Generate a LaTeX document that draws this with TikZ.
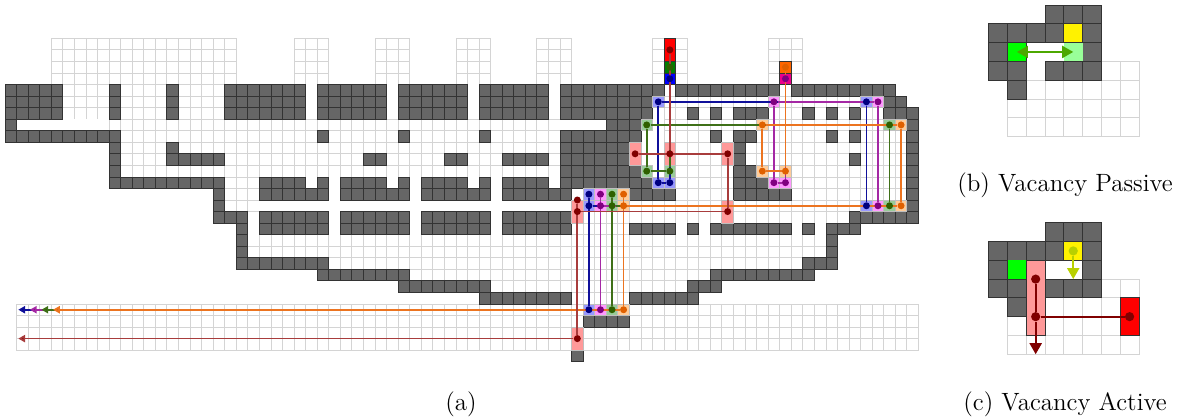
\documentclass[tikz,border=0pt]{standalone}
\usepackage{xcolor}
\usetikzlibrary{arrows.meta}
\definecolor{wallgray}{HTML}{666666}
\definecolor{wred}{HTML}{A83C3C}
\definecolor{wblue}{HTML}{10109A}
\definecolor{wpurple}{HTML}{A428A4}
\definecolor{wgreen}{HTML}{3F7018}
\definecolor{worange}{HTML}{EC7420}
\definecolor{dred}{HTML}{800000}
\definecolor{dblue}{HTML}{000080}
\definecolor{dpurple}{HTML}{800080}
\definecolor{dgreen}{HTML}{2F6000}
\definecolor{dorange}{HTML}{E06000}
\definecolor{pred}{HTML}{FF9999}
\definecolor{pblue}{HTML}{9999FF}
\definecolor{ppurple}{HTML}{FF99FF}
\definecolor{pgreen}{HTML}{99CC99}
\definecolor{porange}{HTML}{FFCC99}
\definecolor{arrowgreen}{HTML}{4CA800}
\definecolor{arrowyellow}{HTML}{B8D000}
\pgfdeclarelayer{cells}
\pgfdeclarelayer{wires}
\pgfsetlayers{cells,wires,main}

\begin{document}
\begin{tikzpicture}[
    x=5.781pt, y=-5.775pt,
    font=\fontsize{12.5}{15}\selectfont,
    wallcell/.style={draw=black!80, fill=wallgray, line width=0.4pt},
    gridcell/.style={draw=black!17, fill=white, line width=0.4pt},
    solidcell/.style={draw=black!80, fill=#1, line width=0.4pt},
    palecell/.style={draw=black!25, fill=#1, line width=0.4pt},
    dot/.style={circle, inner sep=0pt, minimum size=3.5pt, fill=#1},
    bigdot/.style={circle, inner sep=0pt, minimum size=4.6pt, fill=#1},
    wire/.style={draw=#1, line width=0.85pt},
    tip/.style={-{Triangle[length=3.4pt, width=3.6pt, fill=#1]}},
    bigwire/.style={draw=#1, line width=1pt},
    bigtip/.style={-{Triangle[length=5.5pt, width=6pt, fill=#1]}}
]
\useasboundingbox (-0.433,-3.316) rectangle (101.45,32.96);

\begin{pgfonlayer}{cells}
% free cells
\foreach \r/\a/\b in {0/4/19,1/4/19,2/4/19,3/4/19,
    0/25/27,1/25/27,2/25/27,3/25/27,0/32/34,1/32/34,2/32/34,3/32/34,
    0/39/41,1/39/41,2/39/41,3/39/41,0/46/48,1/46/48,2/46/48,3/46/48,
    0/56/58,1/56/58,2/56/58,3/56/58,0/66/68,1/66/68,2/66/68,3/66/68,
    4/5/18,5/5/18,6/5/18,5/57/73,6/56/75,7/9/75,8/10/77,9/10/77,10/10/77,11/10/77,
    12/19/77,13/19/77,14/19/77,15/21/72,16/21/70,17/21/70,18/21/70,
    19/28/68,20/35/60,21/42/58,22/49/53,
    23/1/78,24/1/78,25/1/78,26/1/78}
    \foreach \c in {\a,...,\b} \draw[gridcell] (\c,\r) rectangle ++(1,1);

% corridors
\foreach \r/\a/\b in {4/26/26,5/26/26,6/26/26,4/33/33,5/33/33,6/33/33,
    4/40/40,5/40/40,6/40/40,4/47/47,5/47/47,6/47/47,4/57/57,4/67/67,
    7/1/8,7/48/51,14/22/48,15/21/21,16/21/21,12/26/26,12/33/33,12/40/40,12/47/47,
    12/28/28,13/28/28,15/28/28,16/28/28,12/35/35,13/35/35,15/35/35,16/35/35,
    12/42/42,13/42/42,15/42/42,16/42/42,6/56/56,7/56/56,8/55/56,9/54/56,10/54/56,11/56/56,
    16/58/58,16/60/60,16/68/68,16/70/70}
    \fill[white] (\a,\r) rectangle (\b+1,\r+1);

% walls
\foreach \r/\a/\b in {4/0/4,4/9/9,4/14/14,4/19/25,4/27/32,4/34/39,4/41/46,4/48/56,4/58/66,4/68/76,
    5/0/4,5/9/9,5/14/14,5/19/25,5/27/32,5/34/39,5/41/46,5/48/55,5/76/77,
    6/0/4,6/9/9,6/14/14,6/19/25,6/27/32,6/34/39,6/41/46,6/48/55,6/59/59,6/61/61,6/63/65,6/69/69,6/71/71,6/73/73,6/76/78,
    7/0/0,7/52/54,7/78/78,
    8/0/9,8/27/27,8/34/34,8/41/41,8/48/54,8/61/61,8/63/64,8/71/71,8/73/73,8/78/78,
    9/9/9,9/14/14,9/48/53,9/63/63,9/78/78,
    10/9/9,10/14/18,10/31/32,10/38/39,10/43/46,10/48/53,10/63/63,10/73/73,10/78/78,
    11/9/9,11/48/54,11/63/64,11/78/78,
    12/9/18,12/22/25,12/27/27,12/29/32,12/34/34,12/36/39,12/41/41,12/43/46,12/48/55,12/63/65,12/78/78,
    13/18/18,13/22/27,13/29/34,13/36/41,13/43/48,13/54/57,13/63/67,13/78/78,
    14/18/18,14/78/78,
    15/18/20,15/22/27,15/29/34,15/36/41,15/43/48,15/73/78,
    16/20/20,16/22/27,16/29/34,16/36/41,16/43/48,16/54/57,16/59/59,16/61/67,16/69/69,16/71/73,
    17/20/20,17/71/71,18/20/20,18/71/71,19/20/27,19/69/71,
    20/27/34,20/61/69,21/34/41,21/59/61,22/41/48,22/54/59,24/50/53,27/49/49}
    \foreach \c in {\a,...,\b} \draw[wallcell] (\c,\r) rectangle ++(1,1);

% tinted cells
\foreach \c/\r in {49/14,54/9,57/9,62/9,62/14,49/25}
    \draw[palecell=pred] (\c,\r) rectangle ++(1,2);
\foreach \c/\r in {56/5,56/12,57/12,50/13,50/14,74/5,74/14,50/23}
    \draw[palecell=pblue] (\c,\r) rectangle ++(1,1);
\foreach \c/\r in {66/5,75/5,66/12,67/12,51/13,51/14,75/14,51/23}
    \draw[palecell=ppurple] (\c,\r) rectangle ++(1,1);
\foreach \c/\r in {55/7,55/11,57/11,52/13,52/14,76/7,76/14,52/23}
    \draw[palecell=pgreen] (\c,\r) rectangle ++(1,1);
\foreach \c/\r in {65/7,77/7,65/11,67/11,53/13,53/14,77/14,53/23}
    \draw[palecell=porange] (\c,\r) rectangle ++(1,1);

\draw[solidcell=red] (57,0) rectangle ++(1,2);
\draw[solidcell={green!50!black}] (57,2) rectangle ++(1,1);
\draw[solidcell=blue] (57,3) rectangle ++(1,1);
\draw[solidcell={orange!80!red}] (67,2) rectangle ++(1,1);
\draw[solidcell=magenta] (67,3) rectangle ++(1,1);
\end{pgfonlayer}

% blue
\node[dot=dblue] (b1) at (57.5,3.5) {};
\node[dot=dblue] (b2) at (57.5,12.5) {};
\node[dot=dblue] (b3) at (56.5,12.5) {};
\node[dot=dblue] (b4) at (56.5,5.5) {};
\node[dot=dblue] (b5) at (74.5,5.5) {};
\node[dot=dblue] (b6) at (74.5,14.5) {};
\node[dot=dblue] (b7) at (50.5,14.5) {};
\node[dot=dblue] (b8) at (50.5,13.5) {};
\node[dot=dblue] (b9) at (50.5,23.5) {};
\coordinate (b10) at (1.15,23.5);
% purple
\node[dot=dpurple] (m1) at (67.5,3.5) {};
\node[dot=dpurple] (m2) at (67.5,12.5) {};
\node[dot=dpurple] (m3) at (66.5,12.5) {};
\node[dot=dpurple] (m4) at (66.5,5.5) {};
\node[dot=dpurple] (m5) at (75.5,5.5) {};
\node[dot=dpurple] (m6) at (75.5,14.5) {};
\node[dot=dpurple] (m7) at (51.5,14.5) {};
\node[dot=dpurple] (m8) at (51.5,13.5) {};
\node[dot=dpurple] (m9) at (51.5,23.5) {};
\coordinate (m10) at (2.15,23.5);
% green
\node[dot=dgreen] (g1) at (57.5,2.5) {};
\node[dot=dgreen] (g2) at (57.5,11.5) {};
\node[dot=dgreen] (g3) at (55.5,11.5) {};
\node[dot=dgreen] (g4) at (55.5,7.5) {};
\node[dot=dgreen] (g5) at (76.5,7.5) {};
\node[dot=dgreen] (g6) at (76.5,14.5) {};
\node[dot=dgreen] (g7) at (52.5,14.5) {};
\node[dot=dgreen] (g8) at (52.5,13.5) {};
\node[dot=dgreen] (g9) at (52.5,23.5) {};
\coordinate (g10) at (3.15,23.5);
% orange
\node[dot=dorange] (o1) at (67.5,2.5) {};
\node[dot=dorange] (o2) at (67.5,11.5) {};
\node[dot=dorange] (o3) at (65.5,11.5) {};
\node[dot=dorange] (o4) at (65.5,7.5) {};
\node[dot=dorange] (o5) at (77.5,7.5) {};
\node[dot=dorange] (o6) at (77.5,14.5) {};
\node[dot=dorange] (o7) at (53.5,14.5) {};
\node[dot=dorange] (o8) at (53.5,13.5) {};
\node[dot=dorange] (o9) at (53.5,23.5) {};
\coordinate (o10) at (4.15,23.5);
% red
\node[dot=dred] (r1) at (57.5,1) {};
\node[dot=dred] (r2) at (57.5,10) {};
\node[dot=dred] (r3) at (54.5,10) {};
\node[dot=dred] (r4) at (62.5,10) {};
\node[dot=dred] (r5) at (62.5,15) {};
\node[dot=dred] (r6) at (49.5,15) {};
\node[dot=dred] (r7) at (49.5,14) {};
\node[dot=dred] (r8) at (49.5,26) {};
\coordinate (r9) at (1.15,26);

\begin{pgfonlayer}{wires}
\draw[wire=wblue] (b1) -- (b2) -- (b3) -- (b4) -- (b5) -- (b6) -- (b7);
\draw[wire=wblue] (b8) -- (b9);
\draw[wire=wblue, tip=dblue] (b9) -- (b10);
\draw[wire=wpurple] (m1) -- (m2) -- (m3) -- (m4) -- (m5) -- (m6) -- (m7);
\draw[wire=wpurple] (m8) -- (m9);
\draw[wire=wpurple, tip=dpurple] (m9) -- (m10);
\draw[wire=wgreen] (g1) -- (g2) -- (g3) -- (g4) -- (g5) -- (g6) -- (g7);
\draw[wire=wgreen] (g8) -- (g9);
\draw[wire=wgreen, tip=dgreen] (g9) -- (g10);
\draw[wire=worange] (o1) -- (o2) -- (o3) -- (o4) -- (o5) -- (o6) -- (o7);
\draw[wire=worange] (o8) -- (o9);
\draw[wire=worange, tip=dorange] (o9) -- (o10);
\draw[wire=wred] (r1) -- (r2);
\draw[wire=wred] (r3) -- (r4) -- (r5) -- (r6);
\draw[wire=wred] (r7) -- (r8);
\draw[wire=wred, tip=dred] (r8) -- (r9);
\end{pgfonlayer}

\node (capa) at (39.44,31.65) {(a)};
\node (capb) at (91.68,12.75) {(b) Vacancy Passive};
\node (capc) at (91.68,31.65) {(c) Vacancy Active};

% passive
\begin{scope}[shift={(85.08,-2.883)}, x=9.39pt, y=-9.39pt]
\begin{pgfonlayer}{cells}
\foreach \r/\a/\b in {3/6/7,4/2/7,5/1/7,6/1/7}
    \foreach \c in {\a,...,\b} \draw[gridcell] (\c,\r) rectangle ++(1,1);
\foreach \r/\a/\b in {0/3/5,1/0/3,1/5/5,2/0/0,2/5/5,3/0/1,3/3/5,4/1/1}
    \foreach \c in {\a,...,\b} \draw[wallcell] (\c,\r) rectangle ++(1,1);
\draw[solidcell=yellow] (4,1) rectangle ++(1,1);
\draw[solidcell=green] (1,2) rectangle ++(1,1);
\fill[green!40] (4,2) rectangle ++(1,1);
\end{pgfonlayer}
\coordinate (pa) at (1.5,2.5);
\coordinate (pb) at (4.5,2.5);
\draw[bigwire=arrowgreen, {Triangle[length=5.5pt, width=6pt]}-{Triangle[length=5.5pt, width=6pt]}] (pa) -- (pb);
\end{scope}

% active
\begin{scope}[shift={(85.08,15.97)}, x=9.39pt, y=-9.39pt]
\begin{pgfonlayer}{cells}
\foreach \r/\a/\b in {3/6/7,4/3/7,5/1/7,6/1/7}
    \foreach \c in {\a,...,\b} \draw[gridcell] (\c,\r) rectangle ++(1,1);
\foreach \r/\a/\b in {0/3/5,1/0/3,1/5/5,2/0/0,2/5/5,3/0/1,3/3/5,4/1/1}
    \foreach \c in {\a,...,\b} \draw[wallcell] (\c,\r) rectangle ++(1,1);
\draw[solidcell=yellow] (4,1) rectangle ++(1,1);
\fill[green] (1,2) rectangle ++(1,1);
\draw[solidcell=pred] (2,2) rectangle ++(1,4);
\draw[solidcell=red] (7,4) rectangle ++(1,2);
\end{pgfonlayer}
\node[bigdot=arrowyellow] (ya) at (4.5,1.5) {};
\coordinate (yb) at (4.5,3);
\node[bigdot=dred] (ra) at (2.5,3) {};
\node[bigdot=dred] (rb) at (2.5,5) {};
\node[bigdot=dred] (rc) at (7.5,5) {};
\coordinate (rd) at (2.5,7);
\draw[bigwire=arrowyellow, bigtip=arrowyellow] (ya) -- (yb);
\draw[bigwire=dred] (ra) -- (rb) -- (rc);
\draw[bigwire=dred, bigtip=dred] (rb) -- (rd);
\end{scope}
\end{tikzpicture}
\end{document}
